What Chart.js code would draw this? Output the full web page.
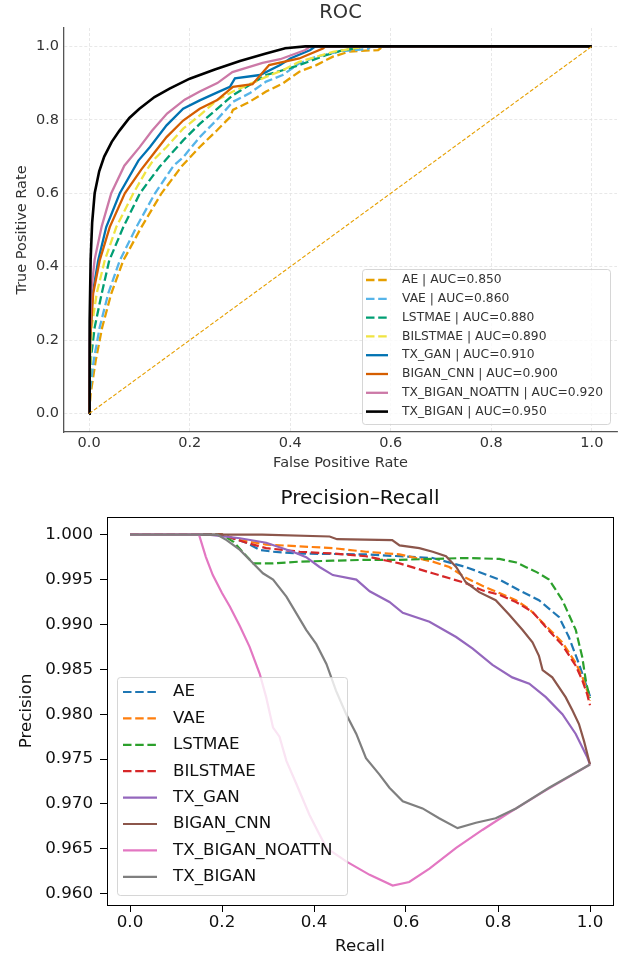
<!DOCTYPE html>
<html>
<head>
<meta charset="utf-8">
<script src="https://cdn.jsdelivr.net/npm/chart.js@4.4.1/dist/chart.umd.min.js"></script>
<style>
  html, body { margin: 0; padding: 0; background: #fff; }
  canvas { display: block; }
</style>
</head>
<body>
<canvas id="roc" width="621" height="480"></canvas>
<canvas id="pr" width="621" height="480"></canvas>
<script>
// ---------- data ----------
const MODELS = ['AE', 'VAE', 'LSTMAE', 'BILSTMAE', 'TX_GAN', 'BIGAN_CNN', 'TX_BIGAN_NOATTN', 'TX_BIGAN'];
const AUC = [0.850, 0.860, 0.880, 0.890, 0.910, 0.900, 0.920, 0.950];

const ROC_TICKS = [0, 0.2, 0.4, 0.6, 0.8, 1.0];
const PR_X_TICKS = [0, 0.2, 0.4, 0.6, 0.8, 1.0];
const PR_Y_TICKS = [0.960, 0.965, 0.970, 0.975, 0.980, 0.985, 0.990, 0.995, 1.000];

// ROC curves (false positive rate / true positive rate)
const fprAE = [0, 0.003, 0.013, 0.026, 0.044, 0.068, 0.104, 0.144, 0.185, 0.22, 0.254, 0.28, 0.286, 0.319, 0.352, 0.385, 0.418, 0.452, 0.485, 0.518, 0.575, 0.585, 1];
const tprAE = [0, 0.054, 0.144, 0.235, 0.327, 0.417, 0.508, 0.6, 0.675, 0.726, 0.771, 0.807, 0.827, 0.849, 0.877, 0.899, 0.931, 0.949, 0.972, 0.986, 0.99, 1, 1];
const fprVAE = [0, 0.001, 0.009, 0.021, 0.038, 0.061, 0.094, 0.131, 0.168, 0.187, 0.22, 0.254, 0.286, 0.319, 0.352, 0.385, 0.418, 0.452, 0.498, 0.555, 0.56, 1];
const tprVAE = [0, 0.054, 0.144, 0.235, 0.327, 0.417, 0.508, 0.6, 0.675, 0.698, 0.753, 0.8, 0.849, 0.872, 0.904, 0.922, 0.954, 0.972, 0.986, 0.993, 1, 1];
const fprLSTMAE = [0, 0.003, 0.011, 0.025, 0.04, 0.068, 0.101, 0.14, 0.187, 0.22, 0.254, 0.286, 0.319, 0.352, 0.385, 0.418, 0.471, 0.505, 0.535, 0.54, 1];
const tprLSTMAE = [0, 0.144, 0.235, 0.327, 0.417, 0.508, 0.6, 0.672, 0.744, 0.789, 0.829, 0.867, 0.895, 0.922, 0.935, 0.949, 0.976, 0.99, 0.995, 1, 1];
const fprBILSTMAE = [0, 0.002, 0.005, 0.015, 0.031, 0.054, 0.088, 0.114, 0.127, 0.154, 0.187, 0.22, 0.254, 0.286, 0.352, 0.385, 0.418, 0.485, 0.52, 0.55, 1];
const tprBILSTMAE = [0, 0.12, 0.235, 0.327, 0.417, 0.508, 0.6, 0.662, 0.689, 0.726, 0.776, 0.812, 0.853, 0.877, 0.917, 0.935, 0.958, 0.985, 0.993, 1, 1];
const fprTXGAN = [0, 0.002, 0.007, 0.018, 0.034, 0.061, 0.098, 0.121, 0.154, 0.187, 0.22, 0.254, 0.28, 0.29, 0.34, 0.38, 0.4, 0.44, 0.45, 1];
const tprTXGAN = [0, 0.2, 0.327, 0.417, 0.508, 0.6, 0.689, 0.726, 0.785, 0.83, 0.853, 0.874, 0.89, 0.913, 0.922, 0.949, 0.967, 0.99, 1, 1];
const fprBIGANCNN = [0, 0.002, 0.008, 0.021, 0.041, 0.071, 0.104, 0.13, 0.154, 0.187, 0.22, 0.254, 0.286, 0.325, 0.358, 0.418, 0.465, 0.47, 1];
const tprBIGANCNN = [0, 0.2, 0.327, 0.417, 0.508, 0.6, 0.665, 0.711, 0.753, 0.798, 0.83, 0.853, 0.89, 0.897, 0.949, 0.967, 0.994, 1, 1];
const fprNOATTN = [0, 0.001, 0.004, 0.011, 0.025, 0.044, 0.07, 0.1, 0.125, 0.155, 0.19, 0.22, 0.255, 0.285, 0.345, 0.38, 0.43, 0.44, 1];
const tprNOATTN = [0, 0.2, 0.33, 0.42, 0.51, 0.6, 0.675, 0.725, 0.77, 0.817, 0.855, 0.877, 0.9, 0.93, 0.955, 0.965, 0.99, 1, 1];
const fprTXBIGAN = [0, 0.001, 0.003, 0.006, 0.011, 0.02, 0.03, 0.045, 0.06, 0.08, 0.1, 0.13, 0.16, 0.2, 0.25, 0.3, 0.35, 0.39, 0.43, 1];
const tprTXBIGAN = [0, 0.25, 0.42, 0.52, 0.6, 0.66, 0.7, 0.74, 0.77, 0.805, 0.83, 0.862, 0.885, 0.912, 0.937, 0.96, 0.98, 0.995, 1, 1];
const DIAG_X = [0, 1];
const DIAG_Y = [0, 1];

// Precision-recall curves (recall / precision)
const recAE = [0, 0.2, 0.253, 0.282, 0.311, 0.369, 0.513, 0.586, 0.658, 0.73, 0.803, 0.846, 0.889, 0.933, 0.954, 0.976, 0.99, 1.0];
const preAE = [1, 1, 0.9991, 0.9983, 0.9981, 0.9979, 0.9978, 0.9976, 0.9974, 0.9964, 0.995, 0.9938, 0.9927, 0.9908, 0.9886, 0.9856, 0.9835, 0.982];
const recVAE = [0, 0.2, 0.239, 0.296, 0.369, 0.441, 0.513, 0.586, 0.658, 0.694, 0.73, 0.766, 0.803, 0.839, 0.868, 0.911, 0.94, 0.969, 0.983, 0.994, 1.0];
const preVAE = [1, 1, 0.9994, 0.9989, 0.9987, 0.9985, 0.9981, 0.9978, 0.997, 0.9964, 0.9952, 0.9943, 0.9935, 0.9927, 0.9917, 0.9895, 0.988, 0.9857, 0.9842, 0.9826, 0.9815];
const recLSTMAE = [0, 0.2, 0.225, 0.246, 0.268, 0.311, 0.369, 0.441, 0.513, 0.586, 0.658, 0.73, 0.803, 0.84, 0.86, 0.885, 0.911, 0.94, 0.969, 0.983, 0.992, 1.0];
const preLSTMAE = [1, 1, 0.9992, 0.998, 0.9968, 0.9968, 0.997, 0.9971, 0.9972, 0.9972, 0.9973, 0.9974, 0.9973, 0.9969, 0.9964, 0.9958, 0.995, 0.9927, 0.9894, 0.9864, 0.9834, 0.9818];
const recBILSTMAE = [0, 0.2, 0.253, 0.296, 0.369, 0.441, 0.513, 0.586, 0.658, 0.73, 0.766, 0.803, 0.839, 0.875, 0.911, 0.94, 0.969, 0.983, 0.994, 1.0];
const preBILSTMAE = [1, 1, 0.9991, 0.9985, 0.9981, 0.9979, 0.9976, 0.9968, 0.9957, 0.9946, 0.9938, 0.9933, 0.9925, 0.9914, 0.9893, 0.9877, 0.9854, 0.9838, 0.9822, 0.981];
const recTXGAN = [0, 0.17, 0.239, 0.296, 0.354, 0.383, 0.412, 0.441, 0.492, 0.521, 0.564, 0.593, 0.651, 0.709, 0.745, 0.788, 0.831, 0.868, 0.904, 0.94, 0.969, 0.994, 1.0];
const preTXGAN = [1, 1, 0.9996, 0.9991, 0.9981, 0.9975, 0.9964, 0.9955, 0.995, 0.9937, 0.9925, 0.9913, 0.9903, 0.9886, 0.9873, 0.9855, 0.9841, 0.9834, 0.9819, 0.98, 0.9778, 0.9752, 0.9744];
const recBIGANCNN = [0, 0.287, 0.434, 0.45, 0.57, 0.586, 0.629, 0.658, 0.687, 0.709, 0.73, 0.759, 0.795, 0.824, 0.853, 0.875, 0.889, 0.897, 0.918, 0.947, 0.962, 0.976, 0.987, 1.0];
const preBIGANCNN = [1, 1, 0.9998, 0.9995, 0.9994, 0.9988, 0.9985, 0.9981, 0.9976, 0.9964, 0.9947, 0.9936, 0.9927, 0.9911, 0.9894, 0.988, 0.9865, 0.9849, 0.9841, 0.9819, 0.9804, 0.9789, 0.977, 0.9744];
const recNOATTN = [0, 0.15, 0.165, 0.18, 0.2, 0.217, 0.239, 0.26, 0.282, 0.296, 0.311, 0.325, 0.34, 0.362, 0.39, 0.427, 0.47, 0.521, 0.571, 0.607, 0.651, 0.709, 0.766, 0.817, 0.9, 1.0];
const preNOATTN = [1, 1, 0.9975, 0.9955, 0.9935, 0.992, 0.9898, 0.9875, 0.9845, 0.9819, 0.9785, 0.9775, 0.9748, 0.9722, 0.9688, 0.9651, 0.9636, 0.9621, 0.9609, 0.9613, 0.9628, 0.9651, 0.9671, 0.9688, 0.9714, 0.9744];
const recTXBIGAN = [0, 0.19, 0.21, 0.239, 0.26, 0.289, 0.311, 0.34, 0.362, 0.383, 0.405, 0.427, 0.448, 0.47, 0.492, 0.513, 0.542, 0.564, 0.593, 0.636, 0.672, 0.712, 0.752, 0.795, 0.839, 0.911, 1.0];
const preTXBIGAN = [1, 1, 0.9994, 0.9983, 0.9972, 0.9957, 0.995, 0.9931, 0.9912, 0.9894, 0.9878, 0.9856, 0.9826, 0.98, 0.9778, 0.9751, 0.9733, 0.9718, 0.9703, 0.9695, 0.9684, 0.9673, 0.9679, 0.9684, 0.9695, 0.9718, 0.9744];

const ROC_FPR = [fprAE, fprVAE, fprLSTMAE, fprBILSTMAE, fprTXGAN, fprBIGANCNN, fprNOATTN, fprTXBIGAN];
const ROC_TPR = [tprAE, tprVAE, tprLSTMAE, tprBILSTMAE, tprTXGAN, tprBIGANCNN, tprNOATTN, tprTXBIGAN];
const PR_REC = [recAE, recVAE, recLSTMAE, recBILSTMAE, recTXGAN, recBIGANCNN, recNOATTN, recTXBIGAN];
const PR_PRE = [preAE, preVAE, preLSTMAE, preBILSTMAE, preTXGAN, preBIGANCNN, preNOATTN, preTXBIGAN];

const ROC_COLORS = ['#E69F00', '#56B4E9', '#009E73', '#F0E442', '#0072B2', '#D55E00', '#CC79A7', '#000000'];
const PR_COLORS = ['#1f77b4', '#ff7f0e', '#2ca02c', '#d62728', '#9467bd', '#8c564b', '#e377c2', '#7f7f7f'];

// ---------- helpers ----------
Chart.defaults.font.family = '"DejaVu Sans", sans-serif';

function pts(xs, ys) {
  return xs.map((x, i) => ({ x: x, y: ys[i] }));
}

// title centred over the plot area
const plotTitle = {
  id: 'plotTitle',
  afterDraw(chart, args, o) {
    const ctx = chart.ctx, a = chart.chartArea;
    ctx.save();
    ctx.font = o.size + 'px "DejaVu Sans"';
    ctx.fillStyle = o.color;
    ctx.textAlign = 'center';
    ctx.textBaseline = 'middle';
    ctx.fillText(o.text, (a.left + a.right) / 2, o.y);
    ctx.restore();
  }
};

// matplotlib-like legend box drawn inside the axes
const boxLegend = {
  id: 'boxLegend',
  afterDatasetsDraw(chart, args, o) {
    const ctx = chart.ctx;
    const r = 3;
    ctx.save();
    ctx.beginPath();
    ctx.moveTo(o.x + r, o.y);
    ctx.arcTo(o.x + o.w, o.y, o.x + o.w, o.y + o.h, r);
    ctx.arcTo(o.x + o.w, o.y + o.h, o.x, o.y + o.h, r);
    ctx.arcTo(o.x, o.y + o.h, o.x, o.y, r);
    ctx.arcTo(o.x, o.y, o.x + o.w, o.y, r);
    ctx.closePath();
    ctx.fillStyle = 'rgba(255,255,255,0.8)';
    ctx.fill();
    ctx.strokeStyle = 'rgba(204,204,204,0.8)';
    ctx.lineWidth = 1;
    ctx.stroke();
    ctx.font = o.size + 'px "DejaVu Sans"';
    ctx.textBaseline = 'middle';
    ctx.textAlign = 'left';
    let row = 0;
    chart.data.datasets.forEach(ds => {
      if (!ds.label) return;
      const y = o.rowY + row * o.step;
      ctx.beginPath();
      ctx.setLineDash(ds.borderDash || []);
      ctx.strokeStyle = ds.borderColor;
      ctx.lineWidth = ds.borderWidth;
      ctx.moveTo(o.hx0, y);
      ctx.lineTo(o.hx1, y);
      ctx.stroke();
      ctx.setLineDash([]);
      ctx.fillStyle = o.color;
      ctx.fillText(ds.label, o.tx, y);
      row++;
    });
    ctx.restore();
  }
};

// full box around the plot area
const frame = {
  id: 'frame',
  afterDraw(chart) {
    const ctx = chart.ctx, a = chart.chartArea;
    ctx.save();
    ctx.strokeStyle = '#000';
    ctx.lineWidth = 1;
    ctx.strokeRect(Math.round(a.left) + 0.5, Math.round(a.top) + 0.5,
      Math.round(a.right - a.left), Math.round(a.bottom - a.top));
    ctx.restore();
  }
};

// ---------- ROC ----------
const TOP_TXT = '#333333';
const rocSets = MODELS.map((m, i) => ({
  label: m + ' | AUC=' + AUC[i].toFixed(3),
  data: pts(ROC_FPR[i], ROC_TPR[i]),
  borderColor: ROC_COLORS[i],
  borderWidth: i === 7 ? 2.6 : 2.3,
  borderDash: i < 4 ? [8.5, 3.7] : [],
  order: 20 - i
}));
rocSets.push({
  label: '',
  data: pts(DIAG_X, DIAG_Y),
  borderColor: '#E69F00',
  borderWidth: 1.1,
  borderDash: [4, 2],
  order: 0
});

new Chart(document.getElementById('roc'), {
  type: 'line',
  data: { datasets: rocSets },
  plugins: [plotTitle, boxLegend],
  options: {
    responsive: false,
    animation: false,
    devicePixelRatio: 1,
    events: [],
    layout: { padding: { top: 28, right: 4, bottom: 0, left: 0 } },
    elements: { point: { radius: 0 }, line: { tension: 0, fill: false, borderCapStyle: 'butt' } },
    plugins: {
      legend: { display: false },
      tooltip: { enabled: false },
      plotTitle: { text: 'ROC', y: 13, size: 19.5, color: TOP_TXT },
      boxLegend: { x: 362.5, y: 269.5, w: 248, h: 155, rowY: 280, step: 18.8, hx0: 366, hx1: 388, tx: 402, size: 12.3, color: TOP_TXT }
    },
    scales: {
      x: {
        type: 'linear', min: -0.05, max: 1.05,
        afterBuildTicks: s => { s.ticks = ROC_TICKS.map(v => ({ value: v })); },
        afterFit: s => { s.height = 48; },
        ticks: { callback: v => v.toFixed(1), color: TOP_TXT, font: { size: 14.5 }, padding: 2.3, maxRotation: 0, autoSkip: false },
        grid: { color: '#e2e2e2', lineWidth: 0.8, drawTicks: false },
        border: { display: true, color: '#555555', width: 1.3, dash: [3, 2] },
        title: { display: true, text: 'False Positive Rate', color: TOP_TXT, font: { size: 14.5 }, padding: { top: 0, bottom: 8.3 } }
      },
      y: {
        type: 'linear', min: -0.05, max: 1.05,
        afterBuildTicks: s => { s.ticks = ROC_TICKS.map(v => ({ value: v })); },
        afterFit: s => { s.width = 64; },
        ticks: { callback: v => v.toFixed(1), color: TOP_TXT, font: { size: 14.5 }, padding: 5, autoSkip: false },
        grid: { color: '#e2e2e2', lineWidth: 0.8, drawTicks: false },
        border: { display: true, color: '#555555', width: 1.3, dash: [3, 2] },
        title: { display: true, text: 'True Positive Rate', color: TOP_TXT, font: { size: 14.5 }, padding: { top: 13.3, bottom: 0 } }
      }
    }
  }
});

// ---------- Precision-Recall ----------
const BOT_TXT = '#111111';
const prSets = MODELS.map((m, i) => ({
  label: m,
  data: pts(PR_REC[i], PR_PRE[i]),
  borderColor: PR_COLORS[i],
  borderWidth: 2.2,
  borderDash: i < 4 ? [8.5, 3.7] : [],
  order: 20 - i
}));

new Chart(document.getElementById('pr'), {
  type: 'line',
  data: { datasets: prSets },
  plugins: [plotTitle, boxLegend, frame],
  options: {
    responsive: false,
    animation: false,
    devicePixelRatio: 1,
    events: [],
    layout: { padding: { top: 37, right: 8, bottom: 0, left: 0 } },
    elements: { point: { radius: 0 }, line: { tension: 0, fill: false, borderCapStyle: 'butt' } },
    plugins: {
      legend: { display: false },
      tooltip: { enabled: false },
      plotTitle: { text: 'Precision–Recall', y: 19, size: 20, color: BOT_TXT },
      boxLegend: { x: 117.5, y: 197.5, w: 230, h: 218, rowY: 212, step: 26.4, hx0: 123, hx1: 157, tx: 173, size: 16.7, color: BOT_TXT }
    },
    scales: {
      x: {
        type: 'linear', min: -0.05, max: 1.05,
        afterBuildTicks: s => { s.ticks = PR_X_TICKS.map(v => ({ value: v })); },
        afterFit: s => { s.height = 55; },
        ticks: { callback: v => v.toFixed(1), color: BOT_TXT, font: { size: 16.7 }, padding: 1, maxRotation: 0, autoSkip: false },
        grid: { drawOnChartArea: false, drawTicks: true, tickLength: 7, tickColor: '#000', tickWidth: 1 },
        border: { display: false },
        title: { display: true, text: 'Recall', color: BOT_TXT, font: { size: 16.7 }, padding: { top: 0, bottom: 3 } }
      },
      y: {
        type: 'linear', min: 0.95874, max: 1.00197,
        afterBuildTicks: s => { s.ticks = PR_Y_TICKS.map(v => ({ value: v })); },
        afterFit: s => { s.width = 107; },
        ticks: { callback: v => v.toFixed(3), color: BOT_TXT, font: { size: 16.7 }, padding: 7, autoSkip: false },
        grid: { drawOnChartArea: false, drawTicks: true, tickLength: 7, tickColor: '#000', tickWidth: 1 },
        border: { display: false },
        title: { display: true, text: 'Precision', color: BOT_TXT, font: { size: 16.7 }, padding: { top: 17, bottom: 0 } }
      }
    }
  }
});
</script>
</body>
</html>
